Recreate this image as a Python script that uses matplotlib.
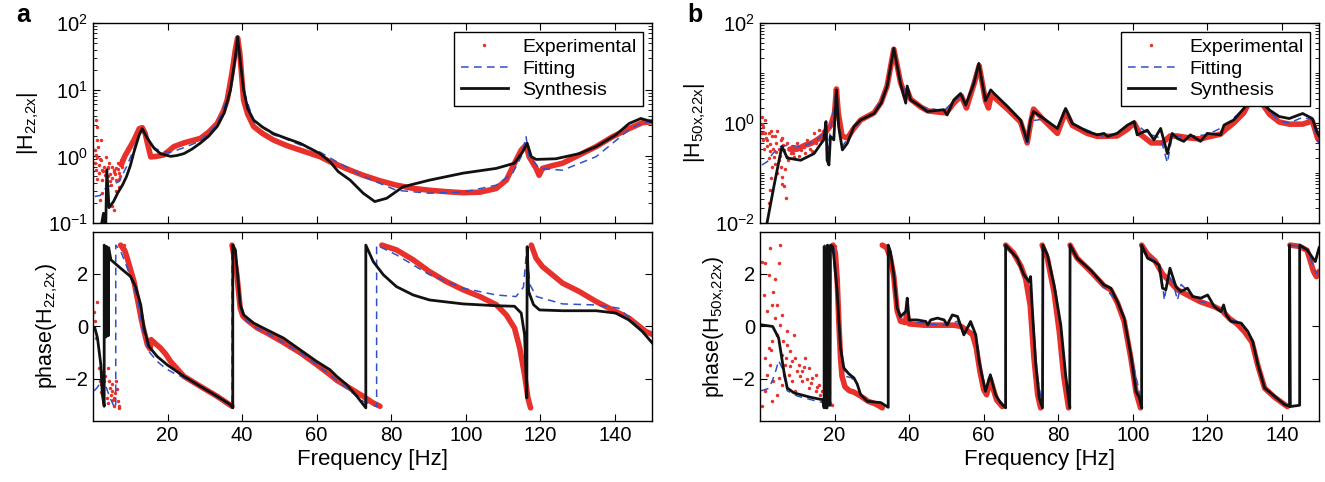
import matplotlib
matplotlib.use("Agg")
import matplotlib.pyplot as plt
from matplotlib.lines import Line2D
from matplotlib.ticker import LogLocator, NullFormatter, LogFormatterMathtext

plt.rcParams['font.family'] = ['Liberation Sans', 'DejaVu Sans']
plt.rcParams['font.size'] = 14.5
plt.rcParams['axes.linewidth'] = 1.0

nan = float('nan')

# ---------------- panel a : magnitude ----------------
a_mag_exp_f = [7.6, 8.5, 10, 11, 12.4, 13.2, 14.0, 14.6, 15.5, 17, 19, 21.7, 24.5, 28.8, 31, 33.3, 35,
               36, 37.3, 38.2, 38.8, 39.4, 40.4, 41.5, 43.1, 45.5, 48.4, 52, 55.6, 60.9, 63.6, 65.8, 69,
               72.5, 77, 81.4, 86, 90.3, 95, 99.3, 103.8, 108.2, 110.9, 113.1, 114.9, 116.2, 117, 118.9,
               119.7, 120.6, 123, 126, 130.5, 135, 139.4, 143.8, 147.4, 150]
a_mag_exp = [0.75, 1.0, 1.4, 1.76, 2.6, 2.7, 2.2, 1.57, 0.98, 1.0, 1.05, 1.4, 1.6, 1.86, 2.3, 3.1, 4.8,
             7, 18, 40, 60, 35, 7, 4.3, 2.8, 2.2, 1.76, 1.45, 1.24, 0.99, 0.83, 0.74, 0.62,
             0.52, 0.43, 0.37, 0.33, 0.31, 0.295, 0.285, 0.29, 0.33, 0.44, 0.79, 1.24, 1.48, 0.99, 0.66,
             0.52, 0.66, 0.72, 0.79, 1.05, 1.4, 1.97, 2.6, 3.2, 3.3]
a_mag_noise_f = [0.75, 1.2, 0.95, 0.6, 1.2, 0.75, 1.6, 2.1, 2.5, 1.9, 3.0, 3.9, 4.3, 4.8, 5.2, 5.7, 5.7,
                 6.1, 6.6, 7.0, 7.0, 7.4, 7.9, 2.5, 3.4, 1.4, 2.1, 3.9, 5.2, 6.1, 1.0, 2.8, 4.5, 6.8,
                 0.5, 1.5, 2.3, 3.2, 4.1, 5.0, 5.9, 6.3, 7.2, 0.9, 1.8, 3.6, 4.6, 5.5, 6.9]
a_mag_noise = [3.5, 2.8, 1.76, 1.24, 0.99, 0.63, 0.57, 0.88, 0.44, 0.22, 0.7, 0.5, 0.79, 0.37, 0.18,
               0.158, 0.63, 0.44, 0.79, 0.57, 0.35, 0.88, 0.7, 0.28, 0.99, 1.4, 1.76, 0.7, 0.7, 0.3,
               0.45, 0.6, 0.55, 0.65, 0.8, 0.75, 0.62, 0.52, 0.66, 0.48, 0.55, 0.68, 0.5, 1.05, 0.9,
               0.6, 0.42, 0.58, 0.45]
a_mag_fit_f = [0.5, 2, 3.5, 5, 7, 9, 11, 12.4, 13.2, 14.5, 16, 18, 20.8, 24.4, 28.8, 33.3, 36.9, 38.2,
               38.8, 39.4, 40.4, 43.1, 48.4, 51, 56, 61, 65.4, 72.5, 81.4, 90.3, 99.3, 108.2, 112.6,
               114.9, 116.2, 117, 119.8, 126, 135, 139.4, 143.8, 147.4, 150]
a_mag_fit = [0.25, 0.26, 0.34, 0.37, 0.42, 0.7, 1.3, 2.1, 2.4, 2.0, 1.4, 1.2, 1.15, 1.35, 1.7, 3.0, 10,
             31, 62, 31, 10, 3.3, 2.1, 1.9, 1.45, 1.15, 0.83, 0.5, 0.31, 0.28, 0.29, 0.37, 0.56,
             0.99, 1.97, 0.99, 0.66, 0.62, 0.99, 1.57, 2.5, 3.2, 3.3]
a_mag_syn_f = [2.2, 2.8, 3.4, 3.7, 4.3, 5.5, 6.6, 8.0, 9.0, 10, 11, 12.4, 13.2, 14.6, 16.4, 18.1, 20.8,
               22.5, 24.4, 26.5, 28.8, 31, 33.3, 35.2, 36.9, 38.2, 38.8, 39.4, 40.4, 41.5, 43.1, 45.5,
               48.4, 52, 55.6, 60.9, 63.6, 65.8, 69, 72.5, 75.6, 78.8, 83.2, 90.3, 99.3, 108.2, 113.1,
               115.3, 116.5, 117.6, 118.9, 124.2, 130.5, 135, 140.3, 143.8, 147, 150]
a_mag_syn = [0.09, 0.14, 0.08, 0.63, 0.17, 0.21, 0.28, 0.38, 0.5, 0.72, 1.17, 2.1, 2.6, 1.86, 1.32, 1.1,
             1.0, 1.03, 1.1, 1.28, 1.58, 2.0, 2.8, 4.5, 10, 31, 62, 31, 10, 5.2, 3.5, 2.75,
             2.2, 1.85, 1.57, 1.1, 0.83, 0.59, 0.44, 0.28, 0.21, 0.235, 0.35, 0.44, 0.56, 0.66, 0.79,
             1.17, 1.57, 0.99, 0.9, 0.92, 1.1, 1.4, 2.1, 3.1, 3.7, 3.3]

# ---------------- panel a : phase ----------------
a_ph_exp_f = [7.4, 8.5, 9.2, 10, 11, 11.7, 12.4, 13, 13.7, 14.6, 15.3, 15.6, 16.5, 18.1, 19.5, 20.8, 22.5,
              24.4, 28.8, 33.3, 37.3, nan,
              37.3, 37.8, 38.6, 39.5, 40.2, 41.3, 44, 46.7, 51, 55.6, 60, 63.6, 65.4, 68.1, 72.5, 75, 77, nan,
              77.5, 81.4, 85.9, 90.3, 94.8, 99.3, 103.8, 108.2, 110.9, 113.1, 114.5, 115.8, 116.7, 117.4, nan,
              117.6, 118.9, 120.6, 126, 130.5, 135, 139.4, 143.8, 148.3, 150]
a_ph_exp = [3.1, 2.9, 2.6, 2.2, 1.71, 1.2, 0.7, 0.25, -0.19, -0.7, -0.85, -0.5, -0.62, -0.82, -1.05, -1.33, -1.6,
            -1.9, -2.28, -2.66, -3.04, nan,
            3.1, 2.7, 1.97, 0.7, 0.4, 0.25, -0.05, -0.25, -0.6, -1.0, -1.45, -1.84, -2.05, -2.28, -2.66, -2.9, -3.04, nan,
            3.1, 2.92, 2.54, 2.09, 1.71, 1.4, 1.14, 0.83, 0.44, -0.06, -0.82, -1.84, -2.72, -3.1, nan,
            3.1, 2.6, 2.28, 1.65, 1.33, 0.95, 0.63, 0.32, -0.19, -0.3]
a_ph_noise_f = [0.2, 0.75, 1.2, 1.6, 2.1, 2.5, 2.1, 3.9, 4.3, 5.2, 5.7, 6.1, 6.6, 7.0, 5.7, 4.8, 3.0, 3.7,
                1.9, 7.5, 7.9, 8.3, 0.4, 2.8, 4.0, 6.4, 5.0, 5.4, 6.0, 6.9, 4.6, 3.3]
a_ph_noise = [0.57, -0.44, 0.95, -1.58, -2.2, -1.73, -2.5, -1.6, -2.09, -2.47, -2.72, -2.09, -2.85,
              -3.04, -3.04, -2.6, -2.09, -2.72, -2.09, 3.05, 2.95, 3.1, 0.2, -2.3, -2.9, -2.4, -2.2,
              -2.8, -2.55, -3.1, -2.35, -1.9]
a_ph_fit_f = [0.3, 1, 2, 3, 3.5, 4.5, 5.5, 6.1, 6.1, 7.5, 9, 10.5, 12, 13.5, 15, 17.2, 19.5, 21.7, 24.4,
              28.8, 33.3, 37.3, 37.3, 38.2, 38.8, 39.5, 40.5, 43, 46.7, 51, 55.6, 60, 65.4, 68, 72.5,
              76.1, 76.1, 77.5, 81.4, 90.3, 99.3, 108.2, 113.5, 115.5, 116.4, 117.2, 119, 126, 135,
              141, 143.8, 147.4, 150]
a_ph_fit = [-2.45, -2.35, -2.15, -1.95, -2.3, -2.7, -3.0, -3.1, 3.1, 2.85, 2.3, 1.7, 1.0, -0.2, -0.95,
            -1.33, -1.6, -1.78, -1.95, -2.3, -2.7, -3.05, 3.1, 2.9, 1.9, 0.7, 0.3, 0.0, -0.25, -0.6,
            -1.0, -1.45, -2.05, -2.35, -2.85, -3.05, 3.1, 3.0, 2.73, 1.97, 1.46, 1.2, 1.14, 1.5, 2.98,
            1.6, 1.14, 0.86, 0.82, 0.7, 0.35, -0.19, -0.6]
a_ph_syn_f = [0.5, 1.2, 2.1, 2.5, 3.0, 3.0, 3.3, 3.5, 3.6, 3.9, 4.1, 4.2, 4.8, 7.4, 10.1, 11.4, 12.8,
              13.7, 15, 17.2, 19.9, 24.4, 28.8, 33.3, 36.9, 37.5, 37.5, 38.2, 38.8, 39.5, 40.4, 43.1,
              46.7, 51.1, 55.6, 60, 63.6, 65.4, 68.1, 70.8, 73.2, 73.2, 75.2, 77.9, 81.4, 85.9, 90.3,
              99.3, 108.2, 113.1, 114.9, 115.8, 116.4, 116.5, 116.9, 118.2, 119.8, 126, 135, 140.3,
              143.8, 147.4, 150]
a_ph_syn = [-0.06, -0.44, -1.46, -2.6, -3.04, 3.1, 2.9, -0.4, 3.05, 2.9, -0.35, 3.0, 2.54, 2.22, 1.9,
            1.52, 0.83, -0.06, -0.76, -1.14, -1.46, -1.9, -2.28, -2.66, -2.98, -3.1, 3.1, 2.92, 1.97,
            0.83, 0.44, 0.13, -0.13, -0.44, -0.89, -1.33, -1.65, -1.9, -2.22, -2.66, -3.1, 3.1, 2.47,
            1.97, 1.52, 1.2, 1.01, 0.86, 0.79, 0.77, 0.51, -0.32, -2.72, 3.04, 1.33, 0.83, 0.63, 0.6,
            0.6, 0.51, 0.25, -0.19, -0.62]

# ---------------- panel b : magnitude ----------------
b_mag_exp_f = [8, 10, 12, 14, 16, 17.2, 18.2, 19, 20, 20.5, 21, 22, 23.5, 25, 27, 30.6, 32.5, 34.1, 35.9,
               37.7, 39.1, 39.5, 40.4, 43.1, 45, 48, 50, 52, 54, 55.4, 57.4, 58.8, 60.5, 61.3, 62, 63,
               66.4, 69.9, 71.7, 72.6, 73.4, 76.1, 79.8, 82, 83.8, 87.8, 90.5, 95.8, 98.6, 100.4, 102,
               105, 108, 110, 112, 115.5, 118.2, 120, 123.6, 125, 127.1, 129.8, 131.5, 133.3, 135,
               136.7, 139.3, 142, 145.6, 148.2, 149.6, 150]
b_mag_exp = [0.3, 0.3, 0.36, 0.4, 0.5, 0.6, 0.75, 0.9, 1.6, 4.8, 1.6, 0.55, 0.5, 0.75, 1.15, 1.6, 2.6,
             5.5, 30, 6.5, 3.3, 4.5, 3.0, 2.1, 1.75, 1.65, 1.6, 2.5, 3.5, 2.0, 6, 14, 2.8, 2.0, 3.5,
             3.2, 1.9, 1.05, 0.4, 1.0, 1.9, 1.15, 0.62, 1.7, 0.9, 0.62, 0.54, 0.55, 0.75, 1.0, 0.6,
             0.4, 0.4, 0.55, 0.55, 0.5, 0.48, 0.52, 0.6, 0.75, 1.0, 1.6, 2.8, 3.2, 2.3,
             1.5, 1.05, 0.95, 0.95, 1.1, 0.5, 0.45]
b_mag_noise_f = [0.4, 0.9, 1.3, 0.9, 1.8, 2.3, 2.8, 3.3, 3.3, 3.7, 4.2, 4.6, 5.1, 2.8, 2.3, 7.0, 6.4, 5.5,
                 6.0, 6.4, 7.3, 7.3, 8.6, 9.1, 10.0, 10.9, 12.7, 14.5, 15.8, 16.3, 1.3, 0.4, 4.6, 5.5,
                 1.0, 2.0, 3.0, 4.0, 5.0, 6.0, 7.8, 8.2, 9.5, 11.5, 12, 13.5, 15, 16, 17, 3.0, 4.0,
                 5.8, 6.8, 2.5, 0.6, 1.6, 2.6, 3.6, 4.4, 5.3, 6.2, 7.5, 8.9, 10.4, 11.8, 13.0, 14.0]
b_mag_noise = [1.35, 0.85, 0.62, 0.46, 0.34, 0.62, 0.27, 0.135, 0.54, 0.21, 0.39, 0.098, 0.18, 0.046,
               0.025, 0.031, 0.054, 0.135, 0.085, 0.29, 0.21, 0.39, 0.34, 0.21, 0.39, 0.29, 0.46, 0.62,
               0.72, 0.46, 1.15, 0.62, 0.68, 0.46, 0.3, 0.45, 0.7, 0.55, 0.3, 0.5, 0.3, 0.25, 0.3,
               0.35, 0.25, 0.3, 0.4, 0.55, 0.7, 0.08, 0.15, 0.06, 0.12, 0.2, 0.95, 0.5, 0.38, 0.3,
               0.26, 0.22, 0.36, 0.18, 0.25, 0.22, 0.33, 0.36, 0.28]
b_mag_fit_f = [0.5, 2, 3.5, 5.5, 7.5, 9, 11, 13, 15, 17, 17.7, 18.2, 19, 20.5, 21.2, 22.2, 24, 27, 30.6,
               34.1, 35.9, 37.7, 40.4, 43.1, 49.3, 52, 53.8, 55.2, 58.7, 60.5, 62, 66.4, 69.9, 71.7,
               72.6, 76.1, 79.8, 82, 83.8, 90.5, 93.2, 98.6, 100.4, 103.9, 107.5, 109.3, 110.6, 115.5,
               120, 124.5, 129.8, 133.3, 136.7, 139.3, 142, 145.6, 148.2, 149.6, 150]
b_mag_fit = [0.145, 0.17, 0.25, 0.34, 0.36, 0.35, 0.34, 0.38, 0.45, 0.6, 0.95, 0.3, 0.8, 4.4, 0.8, 0.35,
             0.55, 1.15, 1.55, 5.4, 30, 6.2, 3.0, 2.1, 1.75, 2.7, 3.5, 2.2, 15, 2.8, 4.4, 2.1, 1.1,
             0.35, 1.1, 1.2, 0.75, 1.9, 0.95, 0.6, 0.5, 0.85, 1.05, 0.62, 0.5, 0.16, 0.55, 0.55,
             0.58, 0.85, 1.9, 3.2, 1.7, 1.1, 1.0, 1.3, 1.15, 0.45, 0.4]
b_mag_syn_f = [1.9, 3.7, 5.5, 5.9, 7.3, 10.9, 14.5, 16.5, 17.1, 17.7, 18.0, 18.5, 18.9, 19.8, 20.5, 21.1,
               22.1, 23.4, 25.2, 27, 30.6, 32.5, 34.1, 35.9, 37.7, 39.1, 39.5, 40.4, 43.1, 44.9, 49.3,
               50.2, 52, 53.8, 55.2, 57.4, 58.7, 60.5, 61.9, 62.8, 66.4, 69.9, 71.7, 72.6, 73.4, 76.1,
               79.8, 82, 83.8, 87.8, 90.5, 92.3, 93.2, 95.8, 98.6, 100.4, 101.2, 103.9, 105.7, 107.5,
               109.3, 110.6, 112, 113.7, 115.5, 118.2, 120, 123.6, 124.5, 127.1, 129.8, 131.5, 133.3,
               135, 136.7, 139.3, 142, 145.6, 148.2, 149.6, 150]
b_mag_syn = [0.0102, 0.053, 0.25, 0.34, 0.2, 0.18, 0.245, 0.4, 0.46, 1.07, 0.18, 0.145, 0.54, 0.46, 4.6,
             0.85, 0.29, 0.39, 0.85, 1.15, 1.55, 2.5, 5.4, 31, 6.2, 2.5, 5.5, 2.9, 2.15, 1.7, 1.85,
             1.45, 2.9, 3.9, 2.3, 6.2, 15.6, 2.8, 4.6, 3.9, 2.15, 1.15, 0.43, 1.15, 1.7, 1.23,
             0.78, 1.96, 0.98, 0.68, 0.58, 0.62, 0.54, 0.62, 0.91, 1.07, 0.58, 0.72, 0.46, 0.78,
             0.245, 0.62, 0.49, 0.43, 0.58, 0.43, 0.62, 0.58, 0.91, 1.15, 1.95, 3.0, 3.3,
             2.5, 1.82, 1.35, 1.23, 1.55, 1.23, 0.62, 0.55]

# ---------------- panel b : phase ----------------
b_ph_exp_f = [19.6, 20.2, 20.7, 21.2, 21.6, 22.0, 22.8, 24, 25.2, 27, 29, 31, 32.8, nan,
              32.8, 34, 35, 35.9, 36.8, 37.7, 39, 39.4, 40, 44, 48, 52, 54, 55.5, 57, 58, 59, 60, 60.8,
              61.8, 62.6, 63.5, 65, nan,
              65.9, 68, 70, 71.3, 72.5, 73.5, 74.5, 75.3, nan,
              75.7, 77.1, 78.9, 80.3, 81.5, 82.8, nan,
              83.2, 85.1, 88.7, 92.3, 94.1, 95.9, 97.7, 99.5, 100.9, 102.1, nan,
              102.4, 104, 106, 108, 110, 112, 114, 116, 118, 120, 122, 124, 126, 128, 130, 132, 133.6,
              135.4, 138.1, 141.5, nan,
              142.2, 144.8, 146.8, 148.5, 149.3, 150]
b_ph_exp = [3.1, 2.8, 1.8, 0.0, -1.2, -1.9, -2.3, -2.45, -2.5, -2.65, -2.85, -2.95, -3.1, nan,
            3.1, 3.0, 2.6, 1.9, 0.6, 0.2, 0.15, 0.55, 0.1, 0.05, 0.05, 0.05, 0.0, -0.15, -0.3, -0.8,
            -1.7, -2.4, -2.6, -2.0, -2.4, -2.8, -3.05, nan,
            3.1, 2.8, 2.3, 1.8, 0.8, -1.2, -2.6, -3.1, nan,
            3.1, 2.6, 1.3, -0.2, -1.9, -3.1, nan,
            3.1, 2.6, 2.1, 1.55, 1.4, 0.9, 0.2, -1.2, -2.5, -3.1, nan,
            3.1, 2.75, 2.5, 2.0, 1.7, 1.4, 1.25, 1.1, 0.95, 0.85, 0.75, 0.6, 0.3, 0.1, -0.2, -0.6,
            -1.5, -2.35, -2.7, -3.05, nan,
            3.1, 3.05, 2.9, 2.1, 1.9, 2.1]
b_ph_noise_f = [0.5, 0.5, 1.4, 2.3, 2.7, 3.2, 3.6, 4.5, 5.4, 5.0, 4.1, 5.4, 5.8, 4.5, 2.3, 1.4, 3.2,
                1.8, 2.7, 3.6, 4.5, 1.4, 3.2, 6.3, 7.2, 8.1, 9.0, 9.5, 10.4, 11.3, 12.2, 13.1, 14.0,
                14.9, 15.8, 16.7, 17.2, 6.8, 7.7, 8.6, 9.5, 5.8, 5.0, 7.2, 8.6, 11.3, 13.1, 14.9,
                17.5, 17.8, 18.0, 18.2, 18.4, 19.5, 20.0, 18.8, 19.2, 20.5,
                1.0, 2.0, 3.0, 4.0, 6.0, 7.0, 8.0, 9.8, 10.8, 11.8, 12.7, 13.6, 15.4, 16.2]
b_ph_noise = [-3.04, 2.47, 2.4, 1.97, 2.98, 0.83, 1.33, 0.83, 3.1, 2.4, 0.32, 0.06, 0.44, -0.32,
              -0.82, -1.2, -0.57, -1.84, -1.46, -2.09, -2.6, -2.47, -2.85, -0.57, -0.7, -0.95, -0.32,
              -1.2, -1.46, -1.71, -1.2, -1.58, -1.96, -1.84, -2.22, -2.47, -2.72, -1.46, -1.84,
              -2.09, -2.47, -2.22, -1.96, -0.19, -1.33, -2.09, -2.34, -2.47,
              3.0, 2.0, 1.0, -1.0, -2.5, 3.0, 3.05, -2.9, -3.0, 2.6,
              1.2, 0.6, -0.9, 1.8, -1.1, -1.2, -1.5, -1.7, -1.9, -1.55, -2.0, -2.15, -2.3, -2.6]
b_ph_fit_f = [0.3, 2.5, 4.0, 5.0, 6.0, 7.3, 10, 14, 17, 17.3, 17.3, 18.5, 19.8, 20.5, 21.3, 22, 23, 24.5,
              26, 27, 29, 32.4, 34.4, 34.4, 35, 35.9, 36.8, 37.7, 39.1, 39.5, 40, 45, 50, 53, 54.7,
              56.5, 57.9, 58.8, 59.7, 60.5, 61.8, 63.2, 65.9, 65.9, 69, 70.8, 72.4, 73.1, 74, 75.8,
              75.9, 77.1, 78.9, 80.7, 82, 83.1, 83.2, 85.1, 88.7, 92.3, 95.9, 97.7, 99.5, 101.5, 102.4,
              102.4, 104, 106, 107.5, 108.5, 109.5, 111, 112, 113, 116, 118, 120, 122, 124, 126,
              129.1, 130.9, 132.2, 133.6, 135.4, 138.1, 142.1, 142.1, 144.8, 146.8, 148.5, 149.3, 150]
b_ph_fit = [-2.45, -2.35, -1.8, -1.3, -1.6, -2.45, -2.65, -2.8, -2.9, -3.1, 3.1, 3.0, 3.0, 2.0, 0.0,
            -1.3, -1.9, -1.95, -2.2, -2.6, -2.85, -2.9, -3.08, 3.1, 2.85, 1.97, 0.6, 0.3, 0.5, 0.9,
            0.2, 0.1, 0.05, 0.2, -0.3, 0.1, -0.4, -1.4, -2.0, -2.5, -1.9, -2.6, -3.1, 3.1, 2.6,
            1.95, 1.6, 0.5, -1.5, -3.1, 3.1, 2.7, 1.5, 0.0, -1.9, -3.1, 3.1, 2.6, 2.15, 1.5, 0.95,
            0.3, -1.1, -2.3, -3.1, 3.1, 2.7, 2.5, 2.2, 1.0, 2.0, 1.6, 1.0, 1.6, 1.2, 0.95, 0.9,
            0.75, 0.6, 0.3, 0.13, -0.2, -0.6, -1.5, -2.35, -2.7, -3.05, 3.1, 3.05, 2.9, 2.3, 2.0, 2.3]
b_ph_syn_f = [0.5, 3.4, 5.0, 6.4, 7.3, 9.1, 13.6, 16.8, 17.2, 17.2, 17.6, 17.7, 18.0, 18.1, 18.5, 18.6,
              18.8, 18.9, 19.5, 19.8, 20.7, 21.6, 22.5, 23.8, 25.2, 26.1, 27, 28.8, 32.4, 34.4, 34.4,
              35, 35.9, 36.8, 37.7, 39.1, 39.5, 40, 42.2, 44.5, 45, 45.8, 47.6, 49.4, 50.2, 51.6, 53,
              54.7, 56.5, 57.9, 58.8, 59.7, 60.5, 61.8, 63.2, 64.5, 65.9, 65.9, 69, 70.8, 72.2, 72.6,
              73.1, 74, 74.9, 75.8, 75.9, 77.1, 78.9, 80.7, 82, 83.1, 83.2, 85.1, 88.7, 92.3, 94.1,
              95.9, 97.7, 99.5, 100.9, 101.8, 102.4, 102.4, 104, 105.8, 107.1, 108, 108.9, 110, 111.6,
              112.9, 114.7, 116.1, 118.3, 120.1, 121.9, 123.7, 124.4, 125.1, 126.4, 129.1, 130.9,
              132.2, 133.6, 135.4, 138.1, 140.8, 142.1, 142.1, 142.3, 144.8, 144.8, 146.8, 149, 150]
b_ph_syn = [0.06, 0.0, -0.44, -1.71, -2.34, -2.53, -2.7, -2.79, -3.1, 3.04, 2.9, -3.1, -3.1, 3.1, 3.0,
            -3.0, -3.0, 3.1, 3.05, 2.7, 1.33, -0.82, -1.58, -1.8, -1.96, -2.2, -2.6, -2.85, -2.9,
            -3.08, 3.1, 2.85, 1.97, 0.7, 0.38, 0.57, 1.08, 0.25, 0.25, 0.19, 0.06, 0.25, 0.32, 0.25,
            0.06, 0.44, 0.38, -0.32, 0.19, -0.32, -1.33, -1.96, -2.47, -1.84, -2.6, -2.9, -3.1, 3.1,
            2.6, 1.97, 1.71, 1.9, 0.57, -1.46, -2.72, -3.1, 3.1, 2.73, 1.58, 0.06, -1.84, -3.1, 3.1,
            2.6, 2.15, 1.58, 1.46, 0.95, 0.32, -1.08, -2.47, -2.72, -3.1, 3.1, 2.6, 2.47, 2.34, 1.46,
            1.4, 2.22, 1.52, 1.33, 1.46, 1.14, 1.08, 1.2, 0.76, 0.57, 0.82, 0.44, 0.19, 0.13, -0.19,
            -0.57, -1.46, -2.34, -2.66, -2.98, -3.04, 3.1, -3.05, -3.0, 3.1, 2.92, 2.47, 3.0]

RED = '#e8312a'
BLUE = '#3050c8'
BLACK = '#111111'

fig = plt.figure(figsize=(13.25, 4.82), dpi=100)
L1, L2, W = 0.0702, 0.5736, 0.4219
ax_a1 = fig.add_axes([L1, 0.5373, W, 0.4149])
ax_a2 = fig.add_axes([L1, 0.1266, W, 0.3921])
ax_b1 = fig.add_axes([L2, 0.5373, W, 0.4149])
ax_b2 = fig.add_axes([L2, 0.1266, W, 0.3921])


def draw(ax, ef, ev, nf, nv, ff, fv, sf, sv):
    ax.plot(ef, ev, color=RED, lw=4.0, solid_capstyle='round', solid_joinstyle='round')
    ax.plot(nf, nv, '.', color=RED, ms=5, mew=0)
    ax.plot(ff, fv, color=BLUE, lw=1.1, ls=(0, (5, 3.5)))
    ax.plot(sf, sv, color=BLACK, lw=2.0)
    ax.set_xlim(0, 150)
    ax.set_xticks([20, 40, 60, 80, 100, 120, 140])
    ax.tick_params(direction='in', which='both', top=True, right=True, length=5, labelsize=14.5)
    ax.tick_params(which='minor', length=3)


draw(ax_a1, a_mag_exp_f, a_mag_exp, a_mag_noise_f, a_mag_noise, a_mag_fit_f, a_mag_fit,
     a_mag_syn_f, a_mag_syn)
draw(ax_a2, a_ph_exp_f, a_ph_exp, a_ph_noise_f, a_ph_noise, a_ph_fit_f, a_ph_fit,
     a_ph_syn_f, a_ph_syn)
draw(ax_b1, b_mag_exp_f, b_mag_exp, b_mag_noise_f, b_mag_noise, b_mag_fit_f, b_mag_fit,
     b_mag_syn_f, b_mag_syn)
draw(ax_b2, b_ph_exp_f, b_ph_exp, b_ph_noise_f, b_ph_noise, b_ph_fit_f, b_ph_fit,
     b_ph_syn_f, b_ph_syn)

# magnitude axes
ax_a1.set_yscale('log')
ax_a1.set_ylim(0.1, 100)
ax_a1.yaxis.set_major_locator(LogLocator(base=10, numticks=10))
ax_b1.set_yscale('log')
ax_b1.set_ylim(0.01, 100)
ax_b1.set_yticks([0.01, 1, 100])
ax_b1.yaxis.set_minor_locator(LogLocator(base=10, subs=[1, 2, 3, 4, 5, 6, 7, 8, 9], numticks=20))
for ax in (ax_a1, ax_b1):
    ax.yaxis.set_major_formatter(LogFormatterMathtext())
    ax.yaxis.set_minor_formatter(NullFormatter())
    ax.tick_params(labelbottom=False)

ax_a1.set_ylabel('|H$_{\\mathregular{2z{,}2x}}$|', fontsize=15.5, labelpad=5)
ax_b1.set_ylabel('|H$_{\\mathregular{50x{,}22x}}$|', fontsize=15.5, labelpad=5)

# phase axes
for ax in (ax_a2, ax_b2):
    ax.set_ylim(-3.6, 3.6)
    ax.set_yticks([-2, 0, 2])
    ax.set_xlabel('Frequency [Hz]', fontsize=16, labelpad=3)
ax_a2.set_ylabel('phase(H$_{\\mathregular{2z{,}2x}}$)', fontsize=15.5, labelpad=4)
ax_b2.set_ylabel('phase(H$_{\\mathregular{50x{,}22x}}$)', fontsize=15.5, labelpad=4)

handles = [Line2D([], [], ls='none', marker='.', color=RED, ms=5, mew=0),
           Line2D([], [], color=BLUE, lw=1.1, ls=(0, (5, 3.5))),
           Line2D([], [], color=BLACK, lw=2.0)]
labels = ['Experimental', 'Fitting', 'Synthesis']
for ax in (ax_a1, ax_b1):
    leg = ax.legend(handles, labels, loc='upper right', fancybox=False, framealpha=1,
                    edgecolor='black', fontsize=14, borderpad=0.35, labelspacing=0.2,
                    handlelength=2.4, handletextpad=0.75, borderaxespad=0.45)
    leg.get_frame().set_linewidth(1.0)

fig.text(0.012, 0.968, 'a', fontsize=18, fontweight='bold', va='center')
fig.text(0.519, 0.968, 'b', fontsize=18, fontweight='bold', va='center')

fig.savefig('out.png', dpi=100)
